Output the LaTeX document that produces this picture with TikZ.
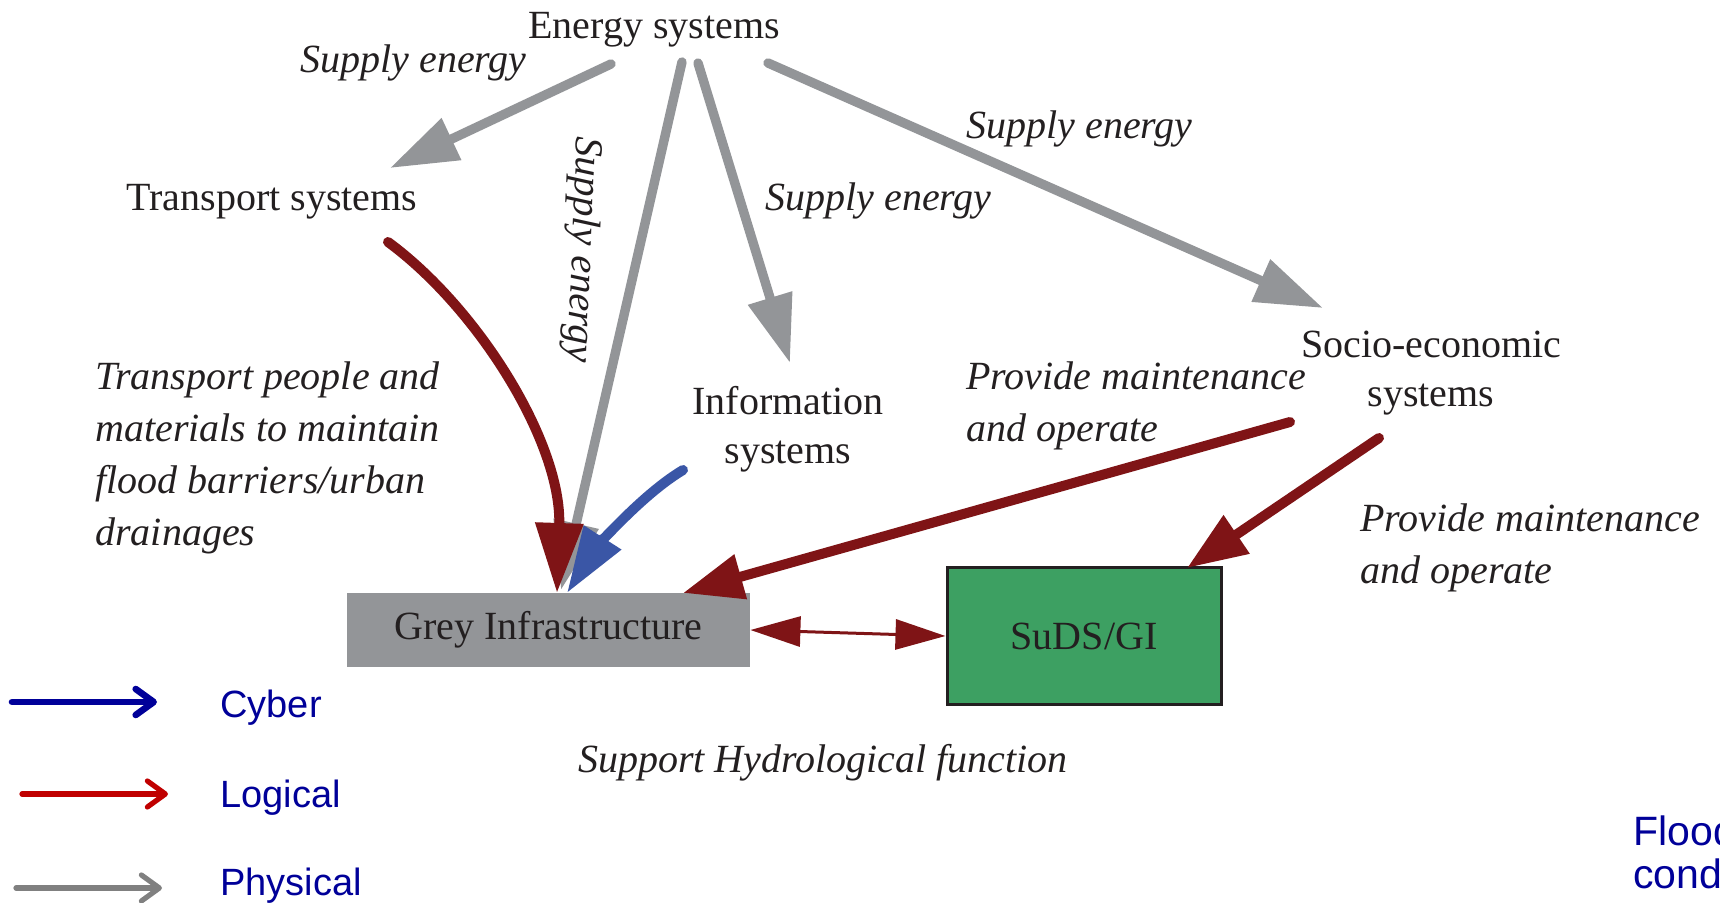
\documentclass[tikz,border=0pt]{standalone}
\usepackage{fontspec}
\setmainfont{Liberation Serif}
\newfontfamily\arialf{Liberation Sans}
\usetikzlibrary{arrows.meta}

\definecolor{physgrey}{RGB}{147,149,152}
\definecolor{logred}{RGB}{127,20,22}
\definecolor{cybblue}{RGB}{58,86,166}
\definecolor{sudsgreen}{RGB}{61,160,98}
\definecolor{txt}{RGB}{35,31,32}
\definecolor{legblue}{RGB}{0,0,153}
\definecolor{legred}{RGB}{192,0,0}
\definecolor{leggrey}{RGB}{128,128,128}

\begin{document}
\begin{tikzpicture}[x=0.5pt,y=-0.5pt,
  lbl/.style={inner sep=0pt, text=txt, font=\fontsize{20pt}{24.5pt}\selectfont},
  itl/.style={inner sep=0pt, text=txt, font=\fontsize{20pt}{26pt}\selectfont\itshape},
  phys/.style={draw=physgrey, line width=4.7pt, line cap=round, -{Triangle[length=34pt,width=22pt]}},
  logi/.style={draw=logred, line width=5pt, line cap=round, -{Triangle[length=30pt,width=22pt]}},
  cyb/.style={draw=cybblue, line width=5pt, line cap=round, -{Triangle[length=33pt,width=21pt]}},
  legarrow/.style={line cap=round, -{Straight Barb[length=9pt,width=13pt,round]}},
  legtxt/.style={inner sep=0pt, anchor=base west, text=legblue, font=\arialf\fontsize{19pt}{23pt}\selectfont},
]
\useasboundingbox (0,0) rectangle (1720,903);

% text nodes
\node[lbl, anchor=base] (energy) at (654,39) {Energy systems};
\node[lbl, anchor=base] (transport) at (272,211) {Transport systems};
\node[lbl, anchor=north, align=center] (info) at (788,379.7) {\strut Information\\systems};
\node[lbl, anchor=north, align=center] (socio) at (1431,322.7) {\strut Socio-economic\\systems};

\node[itl, anchor=base west] (se1) at (300,73) {Supply energy};
\node[itl, anchor=base west] (se3) at (765,211) {Supply energy};
\node[itl, anchor=base west] (se4) at (966,139) {Supply energy};
\node[itl, rotate=-92.3] (se2) at (582,250) {Supply energy};

\node[itl, anchor=north west, align=left] (tpl) at (95,352.6)
  {\strut Transport people and\\materials to maintain\\flood barriers/urban\\drainages};
\node[itl, anchor=north west, align=left] (pm1) at (966,352.6)
  {\strut Provide maintenance\\and operate};
\node[itl, anchor=north west, align=left] (pm2) at (1360,494.6)
  {\strut Provide maintenance\\and operate};
\node[itl, anchor=base] (shf) at (823,772) {Support Hydrological function};

% boxes
\node[lbl, fill=physgrey, minimum width=201.5pt, minimum height=37pt] (grey) at (548.5,630) {Grey Infrastructure};
\node[lbl, fill=sudsgreen, draw=txt, line width=1.5pt, minimum width=137pt, minimum height=68pt] (suds) at (1084,636) {SuDS/GI};

% connector end points
\coordinate (eT) at (611,64);  \coordinate (tT) at (390,168);
\coordinate (eG) at (682,62);  \coordinate (tG) at (561,590);
\coordinate (eI) at (698,63);  \coordinate (tI) at (790,363);
\coordinate (eS) at (768,63);  \coordinate (tS) at (1323,308);
\coordinate (rT) at (388,242); \coordinate (rTg) at (557,593);
\coordinate (rA) at (1290,422); \coordinate (rAg) at (683,593);
\coordinate (rB) at (1379,438); \coordinate (rBs) at (1187,568);
\coordinate (bI) at (683,470); \coordinate (bIg) at (567,593);

% physical
\draw[phys] (eT) -- (tT);
\draw[phys] (eG) -- (tG);
\draw[phys] (eI) -- (tI);
\draw[phys] (eS) -- (tS);

% logical
\draw[logi, -{Triangle[length=35pt,width=23pt]}] (rT) .. controls (478,308) and (562,443) .. (rTg);
\draw[logi] (rA) -- (rAg);
\draw[logi] (rB) -- (rBs);
\draw[draw=logred, line width=1.5pt, {Triangle[length=25pt,width=15pt]}-{Triangle[length=25pt,width=15pt]}] (grey.east) -- (suds.west);

% cyber
\draw[cyb] (bI) .. controls (638,497) and (592,554) .. (bIg);

% legend
\coordinate (lc1) at (12,702);  \coordinate (lc2) at (157,702);
\coordinate (ll1) at (22,794);  \coordinate (ll2) at (168,794);
\coordinate (lp1) at (16,888);  \coordinate (lp2) at (162,888);
\draw[legarrow, draw=legblue, line width=3.3pt] (lc1) -- (lc2);
\draw[legarrow, draw=legred, line width=2.6pt] (ll1) -- (ll2);
\draw[legarrow, draw=leggrey, line width=2.6pt] (lp1) -- (lp2);
\node[legtxt] (lcyber) at (220,718) {Cyber};
\node[legtxt] (llogic) at (220,807) {Logical};
\node[legtxt] (lphys) at (220,895) {Physical};

\node[inner sep=0pt, anchor=north west, align=left, text=legblue, font=\arialf\fontsize{20.5pt}{21.5pt}\selectfont] (flood) at (1633,814.9) {\strut Flood\\cond};
\end{tikzpicture}
\end{document}
